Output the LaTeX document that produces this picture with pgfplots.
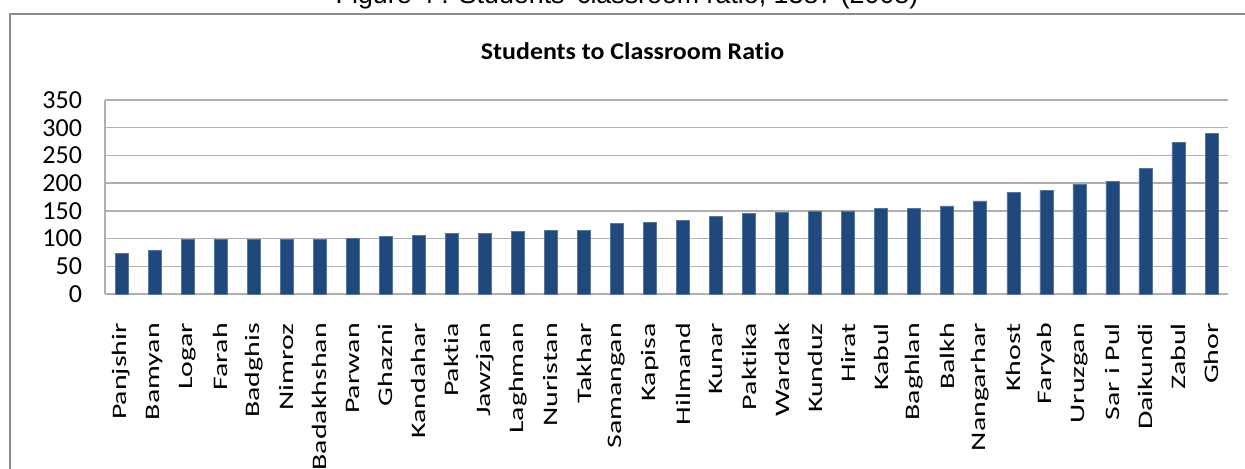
\documentclass[border=0pt]{standalone}
\usepackage{pgfplots}
\pgfplotsset{compat=1.18}
\usepackage{pgfplotstable}
\usepackage{fontspec}
\setmainfont{Carlito}[Ligatures=NoCommon]
\newfontfamily\capfont{Liberation Sans}
\definecolor{barblue}{RGB}{31,73,125}
\definecolor{gridgray}{RGB}{176,176,176}
\definecolor{framegray}{RGB}{140,140,140}
\pgfplotstableread{
x y
0 73
1 78
2 99
3 99
4 99
5 99
6 99
7 101
8 104
9 106
10 110
11 110
12 113
13 115
14 115
15 127
16 129
17 133
18 140
19 145
20 147
21 150
22 150
23 154
24 154
25 159
26 168
27 183
28 187
29 198
30 203
31 227
32 274
33 290
}\ratiodata
\begin{document}
\begin{tikzpicture}
\useasboundingbox (0,0) rectangle (622.5pt,-234.5pt);
\node[anchor=base, font=\capfont\fontsize{13.4}{16}\selectfont] at (313.5pt,-2pt) {Figure 4 : Students' classroom ratio, 1387 (2008)};
\draw[framegray, line width=1pt] (5pt,-240pt) -- (5pt,-7pt) -- (630pt,-7pt);
\node[font=\bfseries\fontsize{12}{14}\selectfont, xscale=1.08] at (316.25pt,-25.5pt) {Students to Classroom Ratio};
\begin{axis}[
  at={(52.5pt,-147pt)}, anchor=south west,
  scale only axis, width=561.5pt, height=97pt,
  xmin=-0.5, xmax=33.5, ymin=0, ymax=350,
  ytick={0,50,...,350},
  xtick={0,...,33},
  xticklabels={Panjshir,Bamyan,Logar,Farah,Badghis,Nimroz,Badakhshan,Parwan,Ghazni,Kandahar,Paktia,Jawzjan,Laghman,Nuristan,Takhar,Samangan,Kapisa,Hilmand,Kunar,Paktika,Wardak,Kunduz,Hirat,Kabul,Baghlan,Balkh,Nangarhar,Khost,Faryab,Uruzgan,Sar i Pul,Daikundi,Zabul,Ghor},
  ymajorgrids, grid style={gridgray, line width=0.65pt},
  major tick length=0pt,
  axis x line*=bottom, axis y line*=left,
  axis line style={gridgray, line width=0.65pt, -},
  /pgf/number format/assume math mode=true,
  yticklabel style={font=\fontsize{13}{15}\selectfont},
  yticklabel shift=8pt,
  xticklabel style={rotate=90, anchor=east, font=\fontsize{10.3}{12}\selectfont, xscale=1.45},
  xticklabel shift=9.5pt,
  ybar, bar width=6.5pt,
  clip=false,
]
\addplot[fill=barblue, draw=barblue!75!white, line width=0.3pt] table[x=x,y=y]{\ratiodata};
\end{axis}
\end{tikzpicture}
\end{document}
